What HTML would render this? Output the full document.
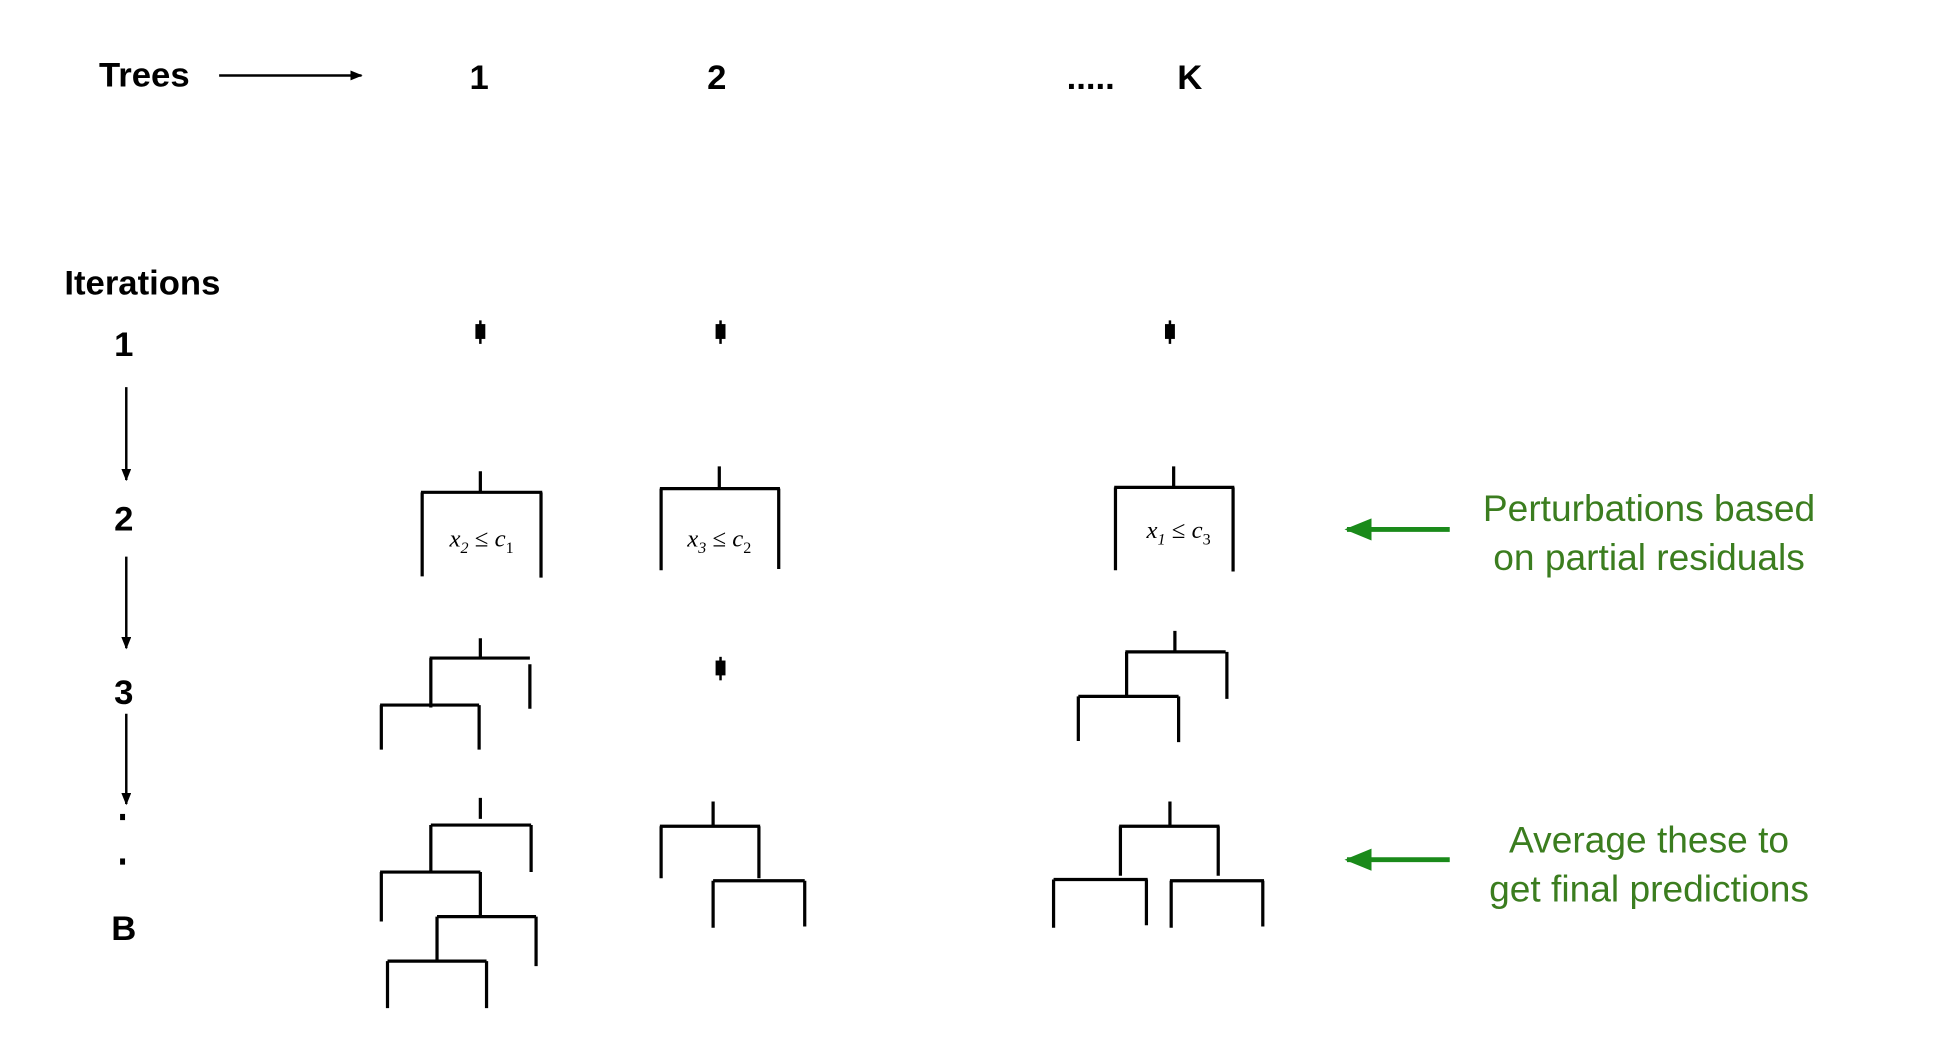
<!DOCTYPE html>
<html><head><meta charset="utf-8"><style>html,body{margin:0;padding:0;background:#fff;}svg{display:block}</style></head>
<body>
<svg width="1940" height="1044" viewBox="0 0 1567 844" preserveAspectRatio="none" xmlns="http://www.w3.org/2000/svg">
<defs>
<marker id="ab" markerWidth="10" markerHeight="8" refX="9" refY="4" orient="auto" markerUnits="userSpaceOnUse"><path d="M0,0 L10,4 L0,8 z" fill="#000"/></marker>
<marker id="ag" markerWidth="22" markerHeight="18" refX="20" refY="9" orient="auto" markerUnits="userSpaceOnUse"><path d="M0,0 L22,9 L0,18 z" fill="#1a8a1a"/></marker>
</defs>
<g font-family="Liberation Sans, sans-serif" font-weight="bold" font-size="28" fill="#000">
<text x="80" y="70">Trees</text>
<text x="387" y="72" text-anchor="middle">1</text>
<text x="579" y="72" text-anchor="middle">2</text>
<text x="881" y="72" text-anchor="middle">.....</text>
<text x="961" y="72" text-anchor="middle">K</text>
<text x="52" y="238">Iterations</text>
<text x="100" y="288" text-anchor="middle">1</text>
<text x="100" y="429" text-anchor="middle">2</text>
<text x="100" y="569" text-anchor="middle">3</text>
<text x="100" y="760" text-anchor="middle">B</text>
</g>
<g stroke="#000" stroke-width="2" fill="none">
<line x1="177" y1="61" x2="292" y2="61" marker-end="url(#ab)"/>
<line x1="102" y1="313" x2="102" y2="388" marker-end="url(#ab)"/>
<line x1="102" y1="450" x2="102" y2="524" marker-end="url(#ab)"/>
<line x1="102" y1="577" x2="102" y2="650" marker-end="url(#ab)"/>
</g>
<rect x="97" y="658" width="4" height="5" fill="#000"/>
<rect x="97" y="694" width="4" height="5" fill="#000"/>
<g fill="#000">
<rect x="384" y="262" width="8" height="12"/><rect x="387" y="259" width="2" height="19"/>
<rect x="578" y="262" width="8" height="12"/><rect x="581" y="259" width="2" height="19"/>
<rect x="941" y="262" width="8" height="12"/><rect x="944" y="259" width="2" height="19"/>
<rect x="578" y="534" width="8" height="12"/><rect x="581" y="531" width="2" height="19"/>
</g>
<g stroke="#000" stroke-width="2.6" fill="none">
<path d="M388 381V398M340 398H438M341 398V466M437 398V467"/>
<path d="M581 377V395M533 395H630M534 395V461M629 395V460"/>
<path d="M948 377V394M900 394H997M901 394V461M996 394V462"/>
<path d="M388 516V533M347 532H428M428 537V573M348 532V572M307 570H387M308 570V606M387 570V606"/>
<path d="M949 510V527M909 527H990M991 527V565M910 527V563M871 563H952M871 563V599M952 563V600"/>
<path d="M388 645V662M348 667H429M429 667V705M348 667V704M307 705H388M308 705V745M388 705V741M353 741H433M433 741V781M353 741V777M313 777H393M313 777V815M393 777V815"/>
<path d="M576 648V668M533 668H614M534 668V710M613 668V710M576 712H650M576 712V750M650 712V749"/>
<path d="M945 648V667M904 668H985M905 668V708M984 668V708M851 711H927M851 711V750M926 711V748M945 712H1021M946 712V750M1020 712V749"/>
</g>
<g font-family="Liberation Serif, serif" font-style="italic" font-size="20" fill="#000">
<text x="389" y="442" text-anchor="middle">x<tspan font-size="13" dy="5">2</tspan><tspan dy="-5" font-style="normal"> ≤ </tspan>c<tspan font-size="13" dy="5" font-style="normal">1</tspan></text>
<text x="581" y="442" text-anchor="middle">x<tspan font-size="13" dy="5">3</tspan><tspan dy="-5" font-style="normal"> ≤ </tspan>c<tspan font-size="13" dy="5" font-style="normal">2</tspan></text>
<text x="952" y="435" text-anchor="middle">x<tspan font-size="13" dy="5">1</tspan><tspan dy="-5" font-style="normal"> ≤ </tspan>c<tspan font-size="13" dy="5" font-style="normal">3</tspan></text>
</g>
<g stroke="#1a8a1a" stroke-width="4">
<line x1="1171" y1="428" x2="1088" y2="428" marker-end="url(#ag)"/>
<line x1="1171" y1="695" x2="1088" y2="695" marker-end="url(#ag)"/>
</g>
<g font-family="Liberation Sans, sans-serif" font-size="30" fill="#3b7d1f" text-anchor="middle">
<text x="1332" y="421">Perturbations based</text>
<text x="1332" y="461">on partial residuals</text>
<text x="1332" y="689">Average these to</text>
<text x="1332" y="729">get final predictions</text>
</g>
</svg>
</body></html>
